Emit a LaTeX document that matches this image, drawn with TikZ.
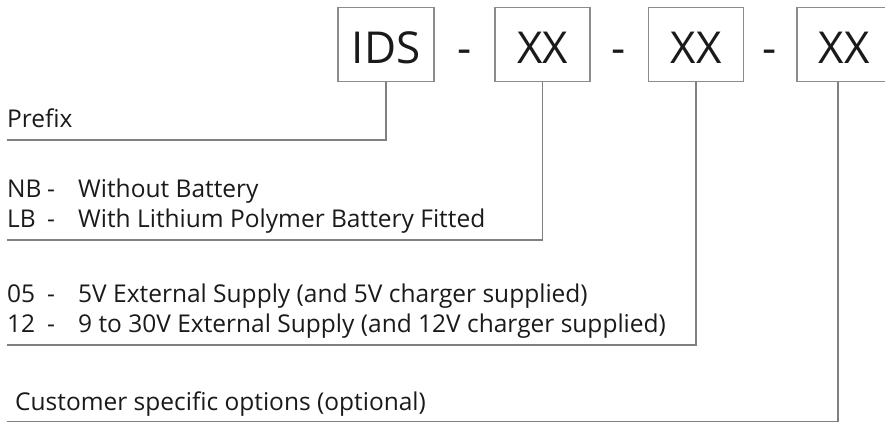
\documentclass[tikz,border=0pt]{standalone}
\usepackage{fontspec}
\setmainfont{Open Sans}
\usepackage{xcolor}
\definecolor{codeink}{HTML}{1A1A1A}
\definecolor{leadgray}{HTML}{808080}
\definecolor{boxgray}{HTML}{8C8C8C}

% one option row: code, dash, then its meaning
\newcommand{\optline}[2]{\makebox[40pt][l]{#1}\makebox[31pt][l]{-}#2}

\begin{document}
\begin{tikzpicture}[x=1pt, y=-1pt,
                    every node/.style={codeink},
                    codebox/.style={draw=boxgray, line width=1.3pt, minimum width=96pt,
                                    minimum height=74pt, inner sep=0pt,
                                    font=\fontsize{44}{50}\selectfont,
                                    text height=39pt, text depth=0pt},
                    codedash/.style={inner sep=0pt, font=\fontsize{44}{50}\selectfont,
                                     text height=39pt, text depth=0pt},
                    lbl/.style={anchor=base west, inner sep=0pt,
                                font=\fontsize{24.5}{30}\selectfont},
                    lead/.style={leadgray, line width=1.6pt}]

  \useasboundingbox (0,0) rectangle (885,422);

  %% the part number, field by field
  \node[codebox] (ids) at (386,44.5) {IDS};
  \node[codedash] (d1) at (465,44.5) {-};
  \node[codebox, minimum width=95pt] (xx1) at (542.5,44.5) {XX};
  \node[codedash] (d2) at (619,44.5) {-};
  \node[codebox, minimum width=95pt] (xx2) at (696,44.5) {XX};
  \node[codedash] (d3) at (770,44.5) {-};
  \node[codebox, minimum width=94pt] (xx3) at (844,44.5) {XX};

  %% what each field means
  \node[lbl] (prefix) at (7,128) {Prefix};

  \node[lbl] (nb) at (7,197) {\optline{NB}{Without Battery}};
  \node[lbl] (lb) at (7,227) {\optline{LB}{With Lithium Polymer Battery Fitted}};

  \node[lbl] (v05) at (7,302) {\optline{05}{5V External Supply (and 5V charger supplied)}};
  \node[lbl] (v12) at (7,332) {\optline{12}{9 to 30V External Supply (and 12V charger supplied)}};

  \node[lbl] (cust) at (15,410) {Customer specific options (optional)};

  %% leaders from each box down and back to the left margin
  \coordinate (r1) at (7,140);
  \coordinate (r2) at (7,240);
  \coordinate (r3) at (7,345);
  \coordinate (r4) at (7,421.5);
  \draw[lead] (ids.south) |- (r1);
  \draw[lead] (xx1.south) |- (r2);
  \draw[lead] (xx2.south) |- (r3);
  \draw[lead] ([xshift=-6pt]xx3.south) |- (r4);

\end{tikzpicture}
\end{document}
